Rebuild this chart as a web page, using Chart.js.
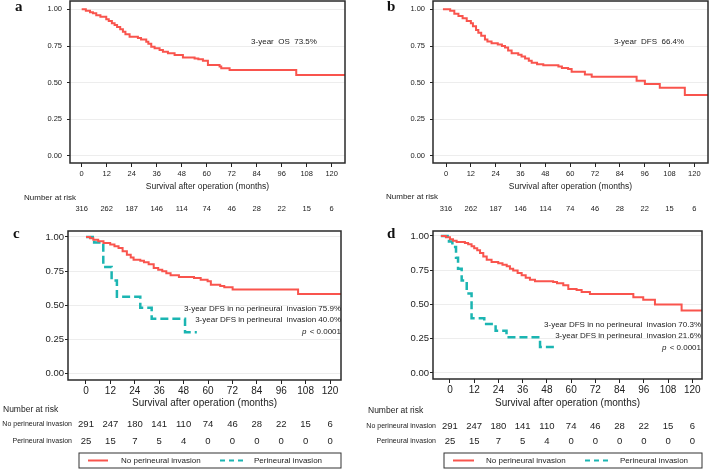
<!DOCTYPE html>
<html>
<head>
<meta charset="utf-8">
<script src="https://cdn.jsdelivr.net/npm/chart.js@4.4.1/dist/chart.umd.min.js"></script>
<style>
  body { margin: 0; background: #fff; width: 709px; height: 469px; overflow: hidden; position: relative; }
  canvas { position: absolute; }
  .tag { position: absolute; font: bold 15px "Liberation Serif", "Times New Roman", serif; line-height: 15px; color: #111; }
</style>
</head>
<body>
<canvas id="pa" width="355" height="230" style="left:0;top:0"></canvas>
<canvas id="pb" width="354" height="230" style="left:355px;top:0"></canvas>
<canvas id="pc" width="355" height="239" style="left:0;top:230px"></canvas>
<canvas id="pd" width="354" height="239" style="left:355px;top:230px"></canvas>
<div class="tag" style="left:15px;top:-1px">a</div>
<div class="tag" style="left:387px;top:-1px">b</div>
<div class="tag" style="left:13px;top:226px">c</div>
<div class="tag" style="left:387px;top:226px">d</div>
<script>
// tick months (also the times for the numbers at risk)
var monthTicks = [0, 12, 24, 36, 48, 60, 72, 84, 96, 108, 120];
var survTicks = [0, 0.25, 0.5, 0.75, 1];

var riskAll = [316, 262, 187, 146, 114, 74, 46, 28, 22, 15, 6];
var riskNoPni = [291, 247, 180, 141, 110, 74, 46, 28, 22, 15, 6];
var riskPni = [25, 15, 7, 5, 4, 0, 0, 0, 0, 0, 0];

// a: overall survival
var osMonths = [0, 2, 4, 5.4, 7, 9, 11.8, 13, 14.5, 15.8, 17, 18.5, 19.8, 21, 23, 27, 28.5, 31, 32, 33.4, 35, 37.4, 39, 41.4, 44.6, 48.6, 54.2, 56, 58.2, 60.6, 66.2, 67, 71, 103, 126.4];
var osSurv = [1, 0.99, 0.98, 0.973, 0.96, 0.95, 0.932, 0.92, 0.905, 0.893, 0.88, 0.865, 0.847, 0.83, 0.813, 0.805, 0.795, 0.779, 0.765, 0.745, 0.735, 0.723, 0.71, 0.70, 0.689, 0.672, 0.665, 0.66, 0.65, 0.62, 0.61, 0.598, 0.586, 0.552, 0.552];

// b: disease free survival
var dfsMonths = [-1.5, 2, 4, 6, 8, 10, 12, 13, 14.5, 15.6, 17, 18.8, 20, 22, 25, 27, 28.5, 30, 31.7, 34.9, 36.5, 38.2, 40, 41.4, 44, 47, 54.3, 56, 59, 60.7, 67.1, 70.4, 92.1, 96.1, 103.3, 115.4, 126.6];
var dfsSurv = [1, 0.99, 0.97, 0.955, 0.94, 0.92, 0.905, 0.885, 0.86, 0.84, 0.82, 0.795, 0.78, 0.768, 0.76, 0.75, 0.74, 0.72, 0.70, 0.69, 0.678, 0.665, 0.65, 0.636, 0.625, 0.618, 0.61, 0.60, 0.593, 0.575, 0.555, 0.54, 0.513, 0.491, 0.466, 0.416, 0.416];

// c: by perineural invasion
var cNoMonths = [0, 2, 3.6, 6, 8.6, 11.9, 14, 16, 18, 20.1, 22, 23.4, 26.7, 28.5, 30.8, 33.3, 35.5, 37.5, 39.5, 41.6, 45.7, 53.1, 56.4, 59.8, 61.4, 66, 68, 72.1, 104.3, 125.4];
var cNoSurv = [1, 0.99, 0.98, 0.968, 0.956, 0.944, 0.932, 0.919, 0.895, 0.87, 0.85, 0.833, 0.825, 0.815, 0.80, 0.772, 0.76, 0.748, 0.733, 0.718, 0.706, 0.699, 0.685, 0.674, 0.649, 0.64, 0.63, 0.615, 0.581, 0.581];
var cPniMonths = [0, 4, 8.5, 12.6, 15.2, 26.7, 32.3, 48.7, 54.5];
var cPniSurv = [1, 0.96, 0.78, 0.68, 0.56, 0.48, 0.40, 0.30, 0.30];

// d: by perineural invasion
var dNoMonths = [-4.5, -2, 0, 1.5, 3.3, 7.4, 9, 10.7, 12, 13.5, 14.9, 16.5, 18.2, 20.6, 23.9, 26, 28.1, 29.7, 31.3, 33.5, 35.5, 37.5, 39.6, 42.1, 51.1, 53, 56.1, 58.6, 62.7, 65.2, 69.3, 90.8, 95.7, 101.5, 114.7, 124.8];
var dNoSurv = [1, 0.99, 0.975, 0.965, 0.956, 0.949, 0.94, 0.925, 0.91, 0.895, 0.876, 0.85, 0.827, 0.81, 0.80, 0.79, 0.779, 0.76, 0.747, 0.73, 0.713, 0.695, 0.681, 0.669, 0.664, 0.655, 0.64, 0.613, 0.605, 0.591, 0.577, 0.552, 0.535, 0.499, 0.455, 0.455];
var dPniMonths = [-4.5, -0.5, 1.2, 3, 4, 5.8, 8.3, 10.7, 17, 22.6, 28, 44.6, 51.6];
var dPniSurv = [1, 0.96, 0.92, 0.84, 0.76, 0.674, 0.58, 0.40, 0.358, 0.309, 0.26, 0.19, 0.19];

var RED = '#f9544d';
var TEAL = '#1bb5b2';
var FONT = '"Liberation Sans", Arial, sans-serif';
Chart.defaults.font.family = FONT;
Chart.defaults.color = '#222';

function toPoints(months, surv) {
  return months.map(function(m, i) { return { x: m, y: surv[i] }; });
}

// frame, notes, risk table and legend box
var kmExtras = {
  id: 'kmExtras',
  afterDraw: function(chart, args, o) {
    var ctx = chart.ctx, a = chart.chartArea, xs = chart.scales.x;
    ctx.save();
    ctx.strokeStyle = '#2a2a2a';
    ctx.lineWidth = 1.5;
    ctx.strokeRect(a.left, a.top, a.right - a.left, a.bottom - a.top);
    ctx.fillStyle = '#222';
    ctx.textBaseline = 'middle';

    (o.notes || []).forEach(function(n) {
      ctx.font = n.size + 'px ' + FONT;
      ctx.textAlign = n.align;
      ctx.fillText(n.text, n.x, n.y);
      if (n.italicP) {
        var w = ctx.measureText(n.text).width;
        ctx.font = 'italic ' + n.size + 'px ' + FONT;
        ctx.textAlign = 'right';
        ctx.fillText('p', n.x - w - 1, n.y);
      }
    });

    var r = o.risk;
    ctx.font = r.titleSize + 'px ' + FONT;
    ctx.textAlign = 'left';
    ctx.fillText('Number at risk', r.titleX, r.titleY);
    r.rows.forEach(function(row) {
      if (row.label) {
        ctx.font = r.labelSize + 'px ' + FONT;
        ctx.textAlign = 'right';
        ctx.fillText(row.label, r.labelX, row.y);
      }
      ctx.font = r.numSize + 'px ' + FONT;
      ctx.textAlign = 'center';
      row.values.forEach(function(v, i) {
        ctx.fillText(String(v), xs.getPixelForValue(monthTicks[i]), row.y);
      });
    });

    if (o.legend) {
      var L = o.legend, cy = L.y + L.h / 2;
      ctx.lineWidth = 1;
      ctx.strokeStyle = '#333';
      ctx.strokeRect(L.x, L.y, L.w, L.h);
      chart.data.datasets.forEach(function(ds, i) {
        var it = L.items[i];
        ctx.beginPath();
        ctx.strokeStyle = ds.borderColor;
        ctx.lineWidth = 2;
        ctx.setLineDash(ds.borderDash.length ? [5, 4] : []);
        ctx.moveTo(it.x0, cy);
        ctx.lineTo(it.x1, cy);
        ctx.stroke();
        ctx.setLineDash([]);
        ctx.font = L.size + 'px ' + FONT;
        ctx.textAlign = 'left';
        ctx.fillStyle = '#222';
        ctx.fillText(ds.label, it.tx, cy);
      });
    }
    ctx.restore();
  }
};

function kmChart(id, c) {
  var ctx = document.getElementById(id).getContext('2d');
  return new Chart(ctx, {
    type: 'line',
    data: {
      datasets: c.sets.map(function(s) {
        return {
          label: s.label,
          data: toPoints(s.months, s.surv),
          borderColor: s.color,
          borderWidth: s.width,
          borderDash: s.dash || [],
          stepped: true,
          pointRadius: 0,
          fill: false
        };
      })
    },
    options: {
      responsive: false,
      animation: false,
      layout: { padding: c.pad },
      plugins: { legend: { display: false }, tooltip: { enabled: false }, kmExtras: c.extras },
      scales: {
        x: {
          type: 'linear', min: c.xMin, max: c.xMax,
          afterBuildTicks: function(s) { s.ticks = monthTicks.map(function(v) { return { value: v }; }); },
          afterFit: function(s) { s.height = c.xH; s.paddingLeft = 0; s.paddingRight = 0; },
          grid: { drawOnChartArea: false, tickLength: 4, tickColor: '#222', tickWidth: 1 },
          border: { display: false },
          ticks: { font: { size: c.tickSize }, color: '#222', padding: c.xPad, maxRotation: 0, autoSkip: false },
          title: { display: true, text: 'Survival after operation (months)', font: { size: c.titleSize }, color: '#222', padding: 0 }
        },
        y: {
          min: c.yMin, max: c.yMax,
          afterBuildTicks: function(s) { s.ticks = survTicks.map(function(v) { return { value: v }; }); },
          afterFit: function(s) { s.width = c.yW; s.paddingTop = 0; s.paddingBottom = 0; },
          grid: { color: '#ededed', tickLength: 3, tickColor: '#222', tickWidth: 1 },
          border: { display: false },
          ticks: {
            font: { size: c.ySize }, color: '#222', padding: c.yPad,
            callback: function(v) { return Number(v).toFixed(2); }
          }
        }
      }
    },
    plugins: [kmExtras]
  });
}

var noLabel = 'No perineural invasion', pniLabel = 'Perineural invasion';

kmChart('pa', {
  sets: [{ label: 'Overall', months: osMonths, surv: osSurv, color: RED, width: 2 }],
  pad: { left: 0, right: 10, top: 1, bottom: 38 },
  xMin: -5.6, xMax: 126.4, yMin: -0.048, yMax: 1.057,
  xH: 29, yW: 70, tickSize: 7.5, ySize: 7.5, titleSize: 8.5, xPad: 2, yPad: 5,
  extras: {
    notes: [{ text: '3-year  OS  73.5%', x: 284, y: 42, align: 'center', size: 8 }],
    risk: { titleX: 24, titleY: 198, titleSize: 8, numSize: 7.5, labelSize: 7,
            rows: [{ values: riskAll, y: 208.5 }] }
  }
});

kmChart('pb', {
  sets: [{ label: 'DFS', months: dfsMonths, surv: dfsSurv, color: RED, width: 2 }],
  pad: { left: 0, right: 1, top: 1, bottom: 38 },
  xMin: -6.3, xMax: 126.6, yMin: -0.048, yMax: 1.057,
  xH: 29, yW: 78, tickSize: 7.5, ySize: 7.5, titleSize: 8.5, xPad: 2, yPad: 5,
  extras: {
    notes: [{ text: '3-year  DFS  66.4%', x: 294, y: 42, align: 'center', size: 8 }],
    risk: { titleX: 31, titleY: 197, titleSize: 8, numSize: 7.5, labelSize: 7,
            rows: [{ values: riskAll, y: 208.5 }] }
  }
});

kmChart('pc', {
  sets: [
    { label: noLabel, months: cNoMonths, surv: cNoSurv, color: RED, width: 2 },
    { label: pniLabel, months: cPniMonths, surv: cPniSurv, color: TEAL, width: 2.5, dash: [8, 4] }
  ],
  pad: { left: 0, right: 14, top: 1, bottom: 60 },
  xMin: -8.85, xMax: 125.4, yMin: -0.051, yMax: 1.044,
  xH: 29, yW: 68, tickSize: 10, ySize: 9.5, titleSize: 10, xPad: 1, yPad: 1,
  extras: {
    notes: [
      { text: '3-year DFS in no perineural  invasion 75.9%', x: 341, y: 79, align: 'right', size: 8 },
      { text: '3-year DFS in perineural  invasion 40.0%', x: 341, y: 90, align: 'right', size: 8 },
      { text: ' < 0.0001', x: 341, y: 101.5, align: 'right', size: 8, italicP: true }
    ],
    risk: { titleX: 3, titleY: 180, titleSize: 8.5, numSize: 9.5, labelSize: 7, labelX: 72,
            rows: [{ label: noLabel, values: riskNoPni, y: 194.5 }, { label: pniLabel, values: riskPni, y: 211 }] },
    legend: { x: 79, y: 223, w: 262, h: 15, size: 8,
              items: [{ x0: 88, x1: 108, tx: 121 }, { x0: 220, x1: 243, tx: 254 }] }
  }
});

kmChart('pd', {
  sets: [
    { label: noLabel, months: dNoMonths, surv: dNoSurv, color: RED, width: 2 },
    { label: pniLabel, months: dPniMonths, surv: dPniSurv, color: TEAL, width: 2.5, dash: [8, 4] }
  ],
  pad: { left: 0, right: 7, top: 1, bottom: 60 },
  xMin: -8.4, xMax: 124.8, yMin: -0.044, yMax: 1.036,
  xH: 30, yW: 78, tickSize: 10, ySize: 9.5, titleSize: 10, xPad: 1, yPad: 1,
  extras: {
    notes: [
      { text: '3-year DFS in no perineural  invasion 70.3%', x: 346, y: 94.5, align: 'right', size: 8 },
      { text: '3-year DFS in perineural  invasion 21.6%', x: 346, y: 106, align: 'right', size: 8 },
      { text: ' < 0.0001', x: 346, y: 117.5, align: 'right', size: 8, italicP: true }
    ],
    risk: { titleX: 13, titleY: 181, titleSize: 8.5, numSize: 9.5, labelSize: 7, labelX: 81,
            rows: [{ label: noLabel, values: riskNoPni, y: 196 }, { label: pniLabel, values: riskPni, y: 211 }] },
    legend: { x: 89, y: 223, w: 258, h: 15, size: 8,
              items: [{ x0: 98, x1: 119, tx: 131 }, { x0: 230, x1: 253, tx: 265 }] }
  }
});
</script>
</body>
</html>
